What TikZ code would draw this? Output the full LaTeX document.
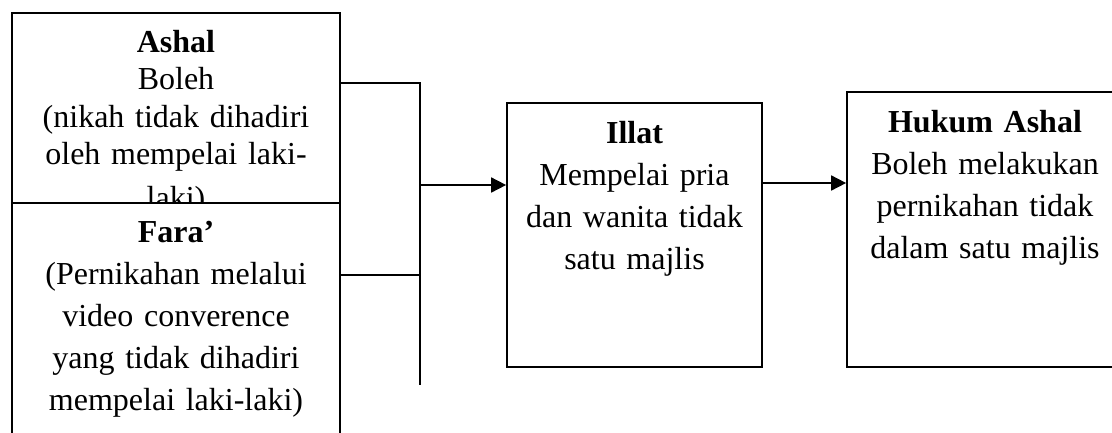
\documentclass[tikz,border=0pt]{standalone}
\usepackage{fontspec}
\setmainfont{Liberation Serif}
\usetikzlibrary{arrows.meta,calc}
\begin{document}
\begin{tikzpicture}[x=1pt,y=-1pt,
  box/.style={draw=black,fill=white,line width=1.7pt,rectangle,inner sep=0pt},
  txt/.style={anchor=base,inner sep=0pt,text width=320pt,align=center,
    font=\fontsize{32}{42}\selectfont},
  tight/.style={font=\fontsize{32}{37.3}\selectfont},
  link/.style={line width=1.7pt},
  arrow/.style={line width=1.7pt,-{Triangle[length=15pt,width=15pt]}}]
\useasboundingbox (0,0) rectangle (1112,432);
\clip (0,0) rectangle (1112,432);
% first premise box (partly hidden by the second one)
\node[box,minimum width=328pt,minimum height=227pt] (ashal) at (176,126.5) {};
\node[txt,tight] (ashalT) at ($(ashal.north)+(0,40.3)$)
  {\textbf{Ashal}\\Boleh\\(nikah tidak dihadiri\\oleh mempelai laki-\\[7pt]laki)};
% second premise box
\node[box,minimum width=328pt,minimum height=247pt] (fara) at (176,326.5) {};
\node[txt] (faraT) at ($(fara.north)+(0,40)$)
  {\textbf{Fara’}\\(Pernikahan melalui\\video converence\\yang tidak dihadiri\\mempelai laki-laki)};
% cause box
\node[box,minimum width=255pt,minimum height=264pt] (illat) at (634.5,235) {};
\node[txt] (illatT) at ($(illat.north)+(0,41)$)
  {\textbf{Illat}\\Mempelai pria\\dan wanita tidak\\satu majlis};
% ruling box
\node[box,minimum width=276pt,minimum height=275pt] (hukum) at (985,229.5) {};
\node[txt] (hukumT) at ($(hukum.north)+(0,41)$)
  {\textbf{Hukum Ashal}\\Boleh melakukan\\pernikahan tidak\\dalam satu majlis};
% joining bracket
\coordinate (ja) at (420,83);
\coordinate (jf) at (420,275);
\coordinate (jm) at (420,185);
\coordinate (jend) at (420,385);
\coordinate (ih) at (800,183);
\draw[link] (ja -| ashal.east) -- (ja) -- (jend);
\draw[link] (jf -| fara.east) -- (jf);
\draw[arrow] (jm) -- (jm -| illat.west);
\draw[arrow] (ih -| illat.east) -- (ih -| hukum.west);
\end{tikzpicture}
\end{document}
